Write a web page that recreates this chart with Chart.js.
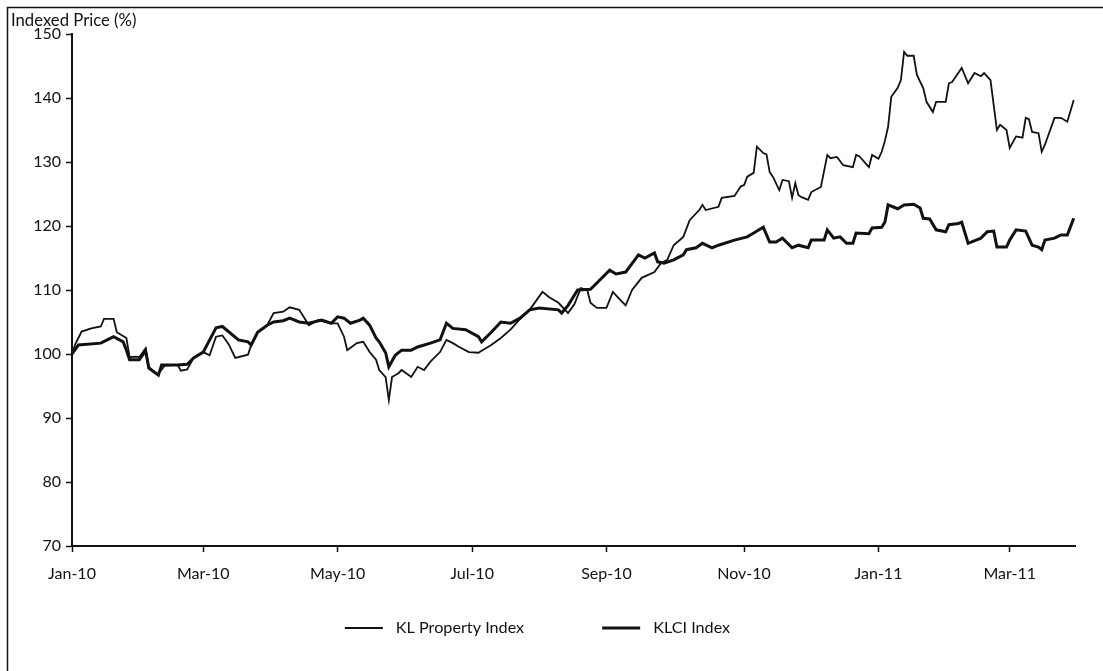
<!DOCTYPE html>
<html>
<head>
<meta charset="utf-8">
<script src="https://cdn.jsdelivr.net/npm/chart.js@4/dist/chart.umd.min.js"></script>
<style>
    html, body { margin: 0; padding: 0; background: #fff; }
    #wrap { position: relative; width: 1103px; height: 671px; }
</style>
</head>
<body>
<div id="wrap"><canvas id="indexChart" width="1103" height="671"></canvas></div>
<script>
// x values are trading-day counts from 4 Jan 2010
const tickDays = [0, 41, 83, 125, 167, 210, 252, 293];
const tickLabels = ['Jan-10', 'Mar-10', 'May-10', 'Jul-10', 'Sep-10', 'Nov-10', 'Jan-11', 'Mar-11'];
const lastDay = 313.4;

const propertyDays = [0, 1, 3, 6, 9, 10, 13, 14, 17, 18, 20, 21, 23, 24, 26, 27, 29, 33, 34, 36, 38, 41, 43, 45, 47, 49, 51, 55, 56, 58,
    61, 63, 66, 68, 71, 73, 74, 77, 81, 83, 85, 86, 89, 91, 93, 95, 96, 98, 99, 100, 102, 103, 106, 108, 110, 112, 115, 117, 119, 121,
    124, 127, 128, 131, 134, 137, 140, 143, 147, 149, 152, 155, 157, 159, 161, 162, 164, 167, 169, 171, 173, 175, 178, 182, 184, 186, 188, 191, 193, 196,
    197, 198, 202, 203, 207, 209, 210, 211, 213, 214, 216, 217, 218, 219, 221, 222, 224, 225, 226, 227, 228, 230, 231, 234, 236, 237, 239, 241, 244, 245,
    246, 249, 250, 252, 253, 254, 255, 256, 258, 259, 260, 261, 263, 264, 266, 267, 269, 270, 273, 274, 275, 278, 280, 282, 284, 285, 287, 288, 289, 290,
    292, 293, 295, 297, 298, 299, 300, 302, 303, 304, 307, 309, 311, 313];
const propertyValues = [100, 101.5, 103.5, 104, 104.3, 105.5, 105.5, 103.4, 102.5, 99.5, 99.6, 99.5, 100.9, 98, 97, 96.9, 98.2, 98.3, 97.4, 97.6, 99.4, 100.3, 99.8, 102.7, 102.9, 101.5, 99.4, 99.9, 101.4, 103.4,
    104.5, 106.4, 106.6, 107.3, 106.9, 105.3, 104.5, 105.3, 104.8, 104.8, 102.7, 100.6, 101.7, 101.9, 100.3, 99.1, 97.5, 96.4, 92.8, 96.4, 97, 97.5, 96.4, 98, 97.5, 98.8, 100.3, 102.2, 101.7, 101.1,
    100.3, 100.2, 100.5, 101.4, 102.5, 103.8, 105.5, 106.9, 109.7, 108.9, 108, 106.4, 107.8, 110.3, 110, 108, 107.2, 107.2, 109.7, 108.6, 107.6, 110, 111.9, 112.8, 114.2, 114.7, 117, 118.3, 120.9, 122.5,
    123.3, 122.5, 123, 124.4, 124.7, 126.2, 126.4, 127.7, 128.3, 132.4, 131.4, 131.2, 128.4, 127.7, 125.6, 127.2, 127, 124.4, 126.7, 124.8, 124.5, 124.1, 125.3, 126.1, 131.1, 130.6, 130.8, 129.5, 129.2, 131.1,
    130.9, 129.2, 131.1, 130.5, 131.6, 133.3, 135.5, 140.2, 141.6, 142.8, 147.2, 146.6, 146.6, 143.6, 141.5, 139.4, 137.8, 139.4, 139.4, 142.3, 142.5, 144.7, 142.3, 143.9, 143.4, 143.9, 142.8, 138.9, 135, 135.8,
    135, 132.2, 134, 133.8, 136.9, 136.7, 134.7, 134.5, 131.6, 132.7, 136.9, 136.9, 136.3, 139.7];

const klciDays = [0, 2, 9, 11, 13, 16, 17, 18, 21, 23, 24, 27, 28, 33, 36, 38, 41, 45, 47, 52, 55, 56, 58, 61, 63, 66, 68, 71, 74, 78,
    81, 83, 85, 87, 90, 91, 93, 95, 96, 98, 99, 101, 103, 106, 108, 112, 115, 117, 119, 123, 127, 128, 131, 134, 137, 140, 143, 146, 152, 153,
    155, 158, 162, 164, 168, 170, 173, 177, 179, 182, 183, 185, 188, 191, 192, 195, 197, 200, 202, 207, 211, 213, 216, 218, 220, 222, 225, 227, 230, 231,
    235, 236, 238, 240, 242, 244, 245, 249, 250, 253, 254, 255, 258, 260, 263, 265, 266, 268, 270, 273, 274, 277, 278, 280, 284, 286, 288, 289, 292, 293,
    295, 298, 300, 302, 303, 304, 307, 309, 311, 313];
const klciValues = [100, 101.4, 101.7, 102.2, 102.7, 101.9, 100.6, 99.1, 99.1, 100.5, 97.8, 96.7, 98.3, 98.3, 98.4, 99.4, 100.3, 104.1, 104.3, 102.2, 101.9, 101.4, 103.4, 104.5, 105, 105.2, 105.6, 105, 104.8, 105.3,
    104.8, 105.8, 105.6, 104.8, 105.3, 105.6, 104.5, 102.5, 101.9, 100.2, 98, 99.8, 100.6, 100.6, 101.1, 101.7, 102.2, 104.8, 104, 103.8, 102.7, 101.9, 103.4, 105, 104.8, 105.6, 106.9, 107.2, 106.9, 106.4,
    107.6, 110, 110.1, 111.1, 113.1, 112.5, 112.8, 115.5, 115, 115.8, 114.4, 114.2, 114.7, 115.5, 116.3, 116.6, 117.3, 116.6, 117, 117.8, 118.3, 118.9, 119.8, 117.5, 117.5, 118.1, 116.6, 117, 116.6, 117.8,
    117.8, 119.4, 118.1, 118.3, 117.3, 117.3, 118.9, 118.8, 119.7, 119.8, 120.6, 123.3, 122.7, 123.3, 123.4, 122.8, 121.2, 121.1, 119.4, 119.1, 120.2, 120.4, 120.6, 117.3, 118.1, 119.1, 119.2, 116.7, 116.7, 117.8,
    119.4, 119.2, 117, 116.7, 116.3, 117.8, 118.1, 118.6, 118.6, 121.2];

const fontFamily = 'Lato, "Open Sans", sans-serif';

// frame, axis title and legend drawn straight on the canvas
const pagePlugin = {
    id: 'page',
    beforeDraw(chart) {
        const ctx = chart.ctx;
        ctx.save();
        ctx.fillStyle = '#fff';
        ctx.fillRect(0, 0, chart.width, chart.height);
        ctx.strokeStyle = '#111';
        ctx.lineWidth = 1.5;
        ctx.beginPath();
        ctx.moveTo(7.5, chart.height);
        ctx.lineTo(7.5, 7.5);
        ctx.lineTo(chart.width, 7.5);
        ctx.stroke();
        ctx.restore();
    },
    afterDraw(chart) {
        const ctx = chart.ctx;
        ctx.save();
        ctx.fillStyle = '#111';
        ctx.font = '16.7px ' + fontFamily;
        ctx.textBaseline = 'alphabetic';
        ctx.fillText('Indexed Price (%)', 11, 26);

        // legend
        ctx.font = '16.2px ' + fontFamily;
        const lineLen = 38, gap = 13, spacing = 78, y = 628;
        const sets = chart.data.datasets;
        const widths = sets.map(ds => ctx.measureText(ds.label).width);
        let total = 0;
        widths.forEach((w, i) => { total += lineLen + gap + w + (i ? spacing : 0); });
        let x = chart.chartArea.right / 2 - total / 2;
        ctx.textBaseline = 'middle';
        sets.forEach((ds, i) => {
            ctx.strokeStyle = ds.borderColor;
            ctx.lineWidth = ds.borderWidth;
            ctx.beginPath();
            ctx.moveTo(x, y);
            ctx.lineTo(x + lineLen, y);
            ctx.stroke();
            ctx.fillText(ds.label, x + lineLen + gap, y);
            x += lineLen + gap + widths[i] + spacing;
        });
        ctx.restore();
    }
};

const toPoints = (days, values) => days.map((d, i) => ({ x: d, y: values[i] }));

new Chart(document.getElementById('indexChart'), {
    type: 'line',
    data: {
        datasets: [
            {
                label: 'KL Property Index',
                data: toPoints(propertyDays, propertyValues),
                borderColor: '#111',
                borderWidth: 1.8,
                pointRadius: 0,
                tension: 0,
            },
            {
                label: 'KLCI Index',
                data: toPoints(klciDays, klciValues),
                borderColor: '#111',
                borderWidth: 3,
                pointRadius: 0,
                tension: 0,
            }
        ]
    },
    options: {
        responsive: false,
        animation: false,
        layout: {
            padding: { left: 0, top: 34, right: 28, bottom: 85 },
        },
        plugins: {
            legend: { display: false },
            tooltip: { enabled: false },
        },
        scales: {
            x: {
                type: 'linear',
                min: 0,
                max: lastDay,
                afterBuildTicks: (scale) => {
                    scale.ticks = tickDays.map(v => ({ value: v }));
                },
                afterFit: (scale) => { scale.height = 40; },
                ticks: {
                    autoSkip: false,
                    maxRotation: 0,
                    padding: 12,
                    color: '#111',
                    font: { family: fontFamily, size: 16 },
                    callback: (value) => tickLabels[tickDays.indexOf(value)],
                },
                grid: {
                    drawOnChartArea: false,
                    drawTicks: true,
                    tickLength: 6,
                    tickWidth: 1.5,
                    color: '#111',
                },
                border: { display: true, color: '#111', width: 2 },
            },
            y: {
                min: 70,
                max: 150,
                afterFit: (scale) => { scale.width = 72; },
                ticks: {
                    stepSize: 10,
                    padding: 5,
                    color: '#111',
                    font: { family: fontFamily, size: 16 },
                },
                grid: {
                    drawOnChartArea: false,
                    drawTicks: true,
                    tickLength: 6,
                    tickWidth: 1.5,
                    color: '#111',
                },
                border: { display: true, color: '#111', width: 2 },
            }
        }
    },
    plugins: [pagePlugin],
});
</script>
</body>
</html>
